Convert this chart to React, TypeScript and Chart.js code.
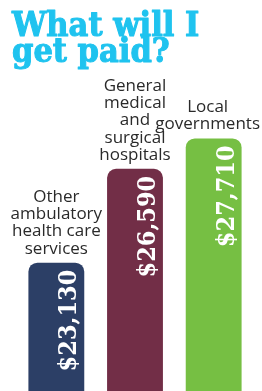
import React, { useEffect, useRef } from 'react';
import { Chart, registerables } from 'chart.js';

Chart.register(...registerables);

const TITLE_LINES = ['What will I', 'get paid?'];
const CATEGORIES = [
  ['Other', 'ambulatory', 'health care', 'services'],
  ['General', 'medical', 'and', 'surgical', 'hospitals'],
  ['Local', 'governments'],
];
const VALUES = [23130, 26590, 27710];
const BAR_COLORS = ['#2c3f66', '#722e47', '#76bf43'];
const Y_MIN = 18400;
const Y_MAX = 30600;

const labelPlugin = {
  id: 'customLabels',
  afterDatasetsDraw(chart: any) {
    const ctx = chart.ctx as CanvasRenderingContext2D;
    const meta = chart.getDatasetMeta(0);
    ctx.save();
    // title
    ctx.fillStyle = '#1fc3ef';
    ctx.strokeStyle = '#1fc3ef';
    ctx.lineWidth = 1;
    ctx.lineJoin = 'round';
    ctx.font = 'bold 34px "DejaVu Serif Condensed", "DejaVu Serif"';
    ctx.textAlign = 'left';
    ctx.textBaseline = 'alphabetic';
    TITLE_LINES.forEach((t, i) => {
      ctx.fillText(t, 12, 36 + i * 26);
      ctx.strokeText(t, 12, 36 + i * 26);
    });

    // category labels above bars
    ctx.font = '17px "Open Sans"';
    ctx.fillStyle = '#2a2a2a';
    ctx.textAlign = 'center';
    meta.data.forEach((bar: any, i: number) => {
      const { x, y } = bar.getProps(['x', 'y'], true);
      const lines = CATEGORIES[i];
      const maxW = Math.max(...lines.map((l) => ctx.measureText(l).width));
      const cx = Math.min(x, chart.width - 2 - maxW / 2);
      const lh = 17.2;
      lines.forEach((l, j) =>
        ctx.fillText(l, cx, y - 9 - (lines.length - 1 - j) * lh)
      );
    });

    // value labels inside bars (rotated)
    ctx.font = 'bold 25px "DejaVu Serif Condensed", "DejaVu Serif"';
    ctx.fillStyle = '#ffffff';
    ctx.textAlign = 'right';
    meta.data.forEach((bar: any, i: number) => {
      const { x, y, width } = bar.getProps(['x', 'y', 'width'], true);
      ctx.save();
      ctx.translate(x + width / 2 - 8, y + 7);
      ctx.rotate(-Math.PI / 2);
      ctx.fillText('$' + VALUES[i].toLocaleString('en-US'), 0, 0);
      ctx.restore();
    });
    ctx.restore();
  },
};

export default function App() {
  const ref = useRef<HTMLCanvasElement>(null);
  useEffect(() => {
    if (!ref.current) return;
    const chart = new Chart(ref.current, {
      type: 'bar',
      data: {
        labels: CATEGORIES.map((c) => c.join(' ')),
        datasets: [
          {
            data: VALUES,
            backgroundColor: BAR_COLORS,
            borderRadius: 9,
            borderSkipped: 'start',
            categoryPercentage: 1,
            barPercentage: 0.71,
          },
        ],
      },
      options: {
        responsive: false,
        animation: false,
        devicePixelRatio: 1,
        layout: { padding: { left: 17, right: 9, top: 60, bottom: 0 } },
        scales: {
          x: { display: false, offset: true },
          y: { display: false, min: Y_MIN, max: Y_MAX },
        },
        plugins: {
          legend: { display: false },
          title: { display: false },
          tooltip: { enabled: false },
        },
      },
      plugins: [labelPlugin],
    });
    return () => chart.destroy();
  }, []);
  return (
    <div style={{ position: 'fixed', left: 0, top: 0, width: 262, height: 391, background: '#fff' }}>
      <canvas ref={ref} width={262} height={391} />
    </div>
  );
}
